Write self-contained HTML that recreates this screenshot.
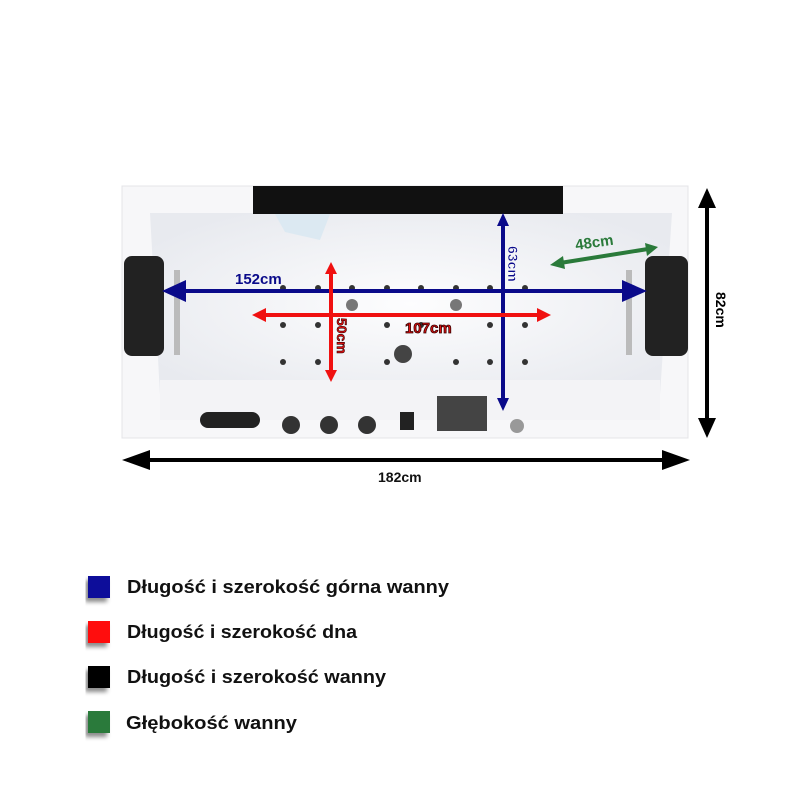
<!DOCTYPE html>
<html><head><meta charset="utf-8"><style>
body{margin:0;background:#fff;width:800px;height:800px;overflow:hidden}
text{font-family:"Liberation Sans","DejaVu Sans",sans-serif;font-weight:bold}
</style></head><body>
<svg width="800" height="800" viewBox="0 0 800 800" xmlns="http://www.w3.org/2000/svg">
<defs>
<radialGradient id="bg" cx="50%" cy="50%" r="60%"><stop offset="0" stop-color="#fdfdfe"/><stop offset="1" stop-color="#e8eaef"/></radialGradient>
<filter id="sh"><feDropShadow dx="-3" dy="4" stdDeviation="2" flood-color="#000" flood-opacity="0.45"/></filter>
</defs>
<rect x="122" y="186" width="566" height="252" fill="#f7f7f9" stroke="#e4e4e8"/>
<path d="M150 213 L672 213 L660 395 L160 395 Z" fill="url(#bg)"/>
<rect x="160" y="380" width="500" height="40" fill="#f3f3f6"/>
<rect x="253" y="186" width="310" height="28" fill="#111"/>
<path d="M275 214 L330 214 L320 240 L285 232 Z" fill="#dce9f2"/>
<rect x="124" y="256" width="40" height="100" rx="8" fill="#222"/>
<rect x="645" y="256" width="43" height="100" rx="8" fill="#222"/>
<rect x="174" y="270" width="6" height="85" fill="#bbb"/>
<rect x="626" y="270" width="6" height="85" fill="#bbb"/>
<g fill="#333">
<circle cx="283" cy="288" r="3"/><circle cx="318" cy="288" r="3"/><circle cx="352" cy="288" r="3"/><circle cx="387" cy="288" r="3"/><circle cx="421" cy="288" r="3"/><circle cx="456" cy="288" r="3"/><circle cx="490" cy="288" r="3"/><circle cx="525" cy="288" r="3"/>
<circle cx="283" cy="325" r="3"/><circle cx="318" cy="325" r="3"/><circle cx="387" cy="325" r="3"/><circle cx="421" cy="325" r="3"/><circle cx="490" cy="325" r="3"/><circle cx="525" cy="325" r="3"/>
<circle cx="283" cy="362" r="3"/><circle cx="318" cy="362" r="3"/><circle cx="387" cy="362" r="3"/><circle cx="456" cy="362" r="3"/><circle cx="490" cy="362" r="3"/><circle cx="525" cy="362" r="3"/>
</g>
<circle cx="352" cy="305" r="6" fill="#777"/><circle cx="456" cy="305" r="6" fill="#777"/>
<circle cx="403" cy="354" r="9" fill="#444"/>
<rect x="200" y="412" width="60" height="16" rx="8" fill="#222"/>
<circle cx="291" cy="425" r="9" fill="#333"/><circle cx="329" cy="425" r="9" fill="#333"/><circle cx="367" cy="425" r="9" fill="#333"/>
<rect x="400" y="412" width="14" height="18" fill="#222"/>
<rect x="437" y="396" width="50" height="35" fill="#444"/>
<circle cx="517" cy="426" r="7" fill="#999"/>
<g stroke="#0a0a8a" fill="#0a0a8a">
<line x1="180" y1="291" x2="628" y2="291" stroke-width="4"/>
<polygon points="162,291 186,280 186,302" stroke="none"/>
<polygon points="647,291 622,280 622,302" stroke="none"/>
<line x1="503" y1="224" x2="503" y2="400" stroke-width="4"/>
<polygon points="503,213 497,226 509,226" stroke="none"/>
<polygon points="503,411 497,398 509,398" stroke="none"/>
</g>
<g stroke="#f01010" fill="#f01010">
<line x1="262" y1="315" x2="540" y2="315" stroke-width="4"/>
<polygon points="252,315 266,308 266,322" stroke="none"/>
<polygon points="551,315 537,308 537,322" stroke="none"/>
<line x1="331" y1="272" x2="331" y2="372" stroke-width="4"/>
<polygon points="331,262 325,274 337,274" stroke="none"/>
<polygon points="331,382 325,370 337,370" stroke="none"/>
</g>
<g stroke="#2a7a3a" fill="#2a7a3a">
<line x1="560" y1="263" x2="648" y2="249" stroke-width="4"/>
<polygon points="550,265 563,256 565,269" stroke="none"/>
<polygon points="658,247 645,243 647,256" stroke="none"/>
</g>
<g stroke="#000" fill="#000">
<line x1="707" y1="200" x2="707" y2="425" stroke-width="4"/>
<polygon points="707,188 698,208 716,208" stroke="none"/>
<polygon points="707,438 698,418 716,418" stroke="none"/>
<line x1="140" y1="460" x2="672" y2="460" stroke-width="4"/>
<polygon points="122,460 150,450 150,470" stroke="none"/>
<polygon points="690,460 662,450 662,470" stroke="none"/>
</g>
<text x="235" y="284" font-size="15" fill="#0a0a8a">152cm</text>
<text x="405" y="333" font-size="15" fill="#e01010" stroke="#300" stroke-width="0.8">107cm</text>
<text transform="translate(337,318) rotate(90)" font-size="14" fill="#e01010" stroke="#300" stroke-width="0.6">50cm</text>
<text transform="translate(508,246) rotate(90)" font-size="14" fill="#0a0a8a" stroke="#fff" stroke-width="0.5">63cm</text>
<text transform="translate(576,250) rotate(-8)" font-size="15" fill="#2a7a3a">48cm</text>
<text transform="translate(716,292) rotate(90)" font-size="14" fill="#000">82cm</text>
<text x="378" y="482" font-size="14" fill="#111" font-weight="normal">182cm</text>
<g filter="url(#sh)">
<rect x="88" y="576" width="22" height="22" fill="#0a0a9a"/>
<rect x="88" y="621" width="22" height="22" fill="#ff0a0a"/>
<rect x="88" y="666" width="22" height="22" fill="#000"/>
<rect x="88" y="711" width="22" height="22" fill="#2a7a3a"/>
</g>
<g font-size="18" fill="#111">
<text x="127" y="593" textLength="322" lengthAdjust="spacingAndGlyphs">Długość i szerokość górna wanny</text>
<text x="127" y="638" textLength="230" lengthAdjust="spacingAndGlyphs">Długość i szerokość dna</text>
<text x="127" y="683" textLength="259" lengthAdjust="spacingAndGlyphs">Długość i szerokość wanny</text>
<text x="126" y="729" textLength="171" lengthAdjust="spacingAndGlyphs">Głębokość wanny</text>
</g>
</svg>
</body></html>
